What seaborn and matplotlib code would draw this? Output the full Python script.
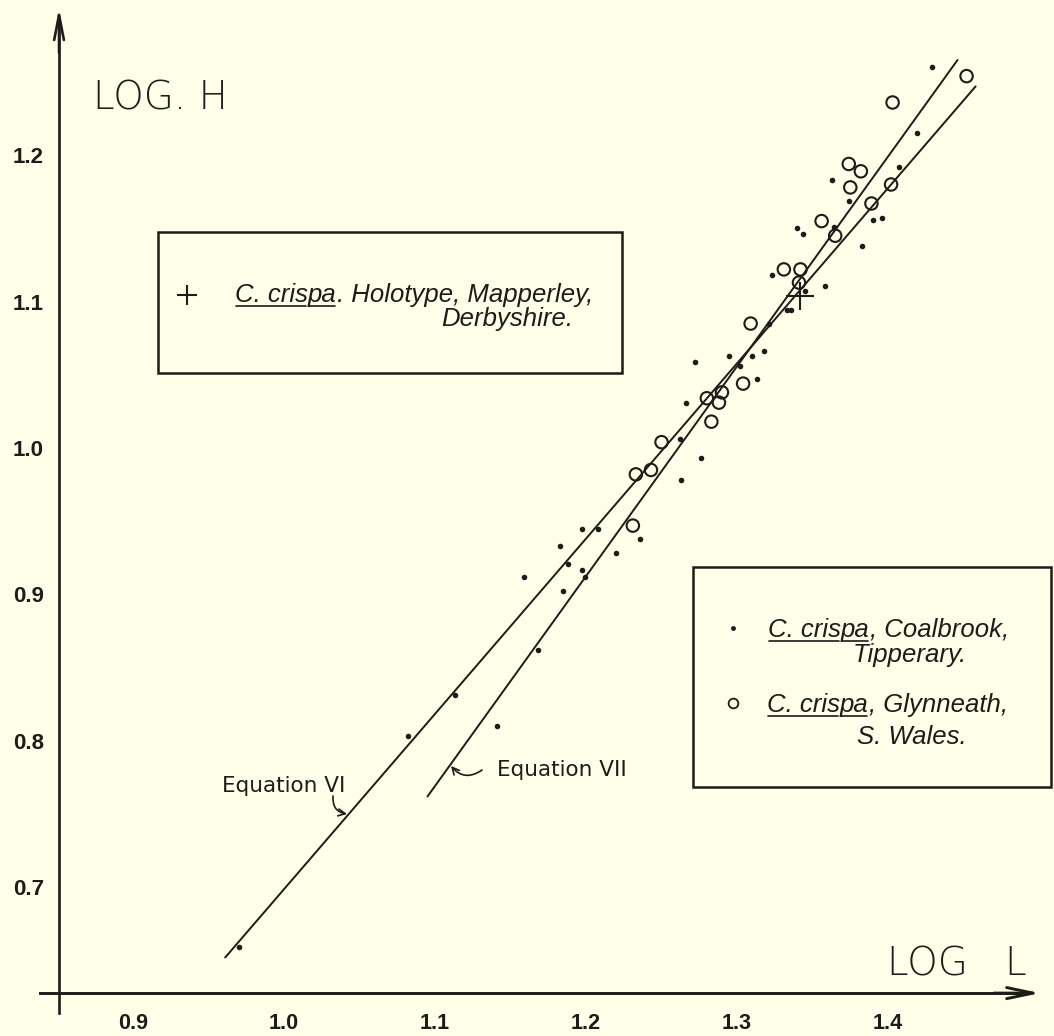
import matplotlib
matplotlib.use("Agg")
import matplotlib.pyplot as plt
import numpy as np
import pandas as pd
import seaborn as sns
from matplotlib.patches import Rectangle
from matplotlib.lines import Line2D

# ---------------- data ----------------
glyn_logL = [1.452, 1.403, 1.374, 1.382, 1.375, 1.402, 1.389, 1.356, 1.365, 1.331,
             1.342, 1.341, 1.309, 1.304, 1.290, 1.280, 1.288, 1.283, 1.250, 1.233,
             1.243, 1.231]
glyn_logH = [1.254, 1.236, 1.194, 1.189, 1.178, 1.180, 1.167, 1.155, 1.145, 1.122,
             1.122, 1.113, 1.085, 1.044, 1.038, 1.034, 1.031, 1.018, 1.004, 0.982,
             0.985, 0.947]

coal_logL = [1.429, 1.419, 1.407, 1.363, 1.374, 1.340, 1.344, 1.364, 1.390, 1.396,
             1.383, 1.323, 1.358, 1.345, 1.336, 1.333, 1.321, 1.272, 1.295, 1.310,
             1.318, 1.302, 1.313, 1.266, 1.262, 1.276, 1.263, 1.197, 1.208, 1.183,
             1.236, 1.220, 1.159, 1.188, 1.197, 1.185, 1.199, 1.168, 1.113, 1.082,
             1.141, 0.970]
coal_logH = [1.260, 1.215, 1.192, 1.183, 1.169, 1.150, 1.146, 1.151, 1.156, 1.157,
             1.138, 1.118, 1.111, 1.107, 1.094, 1.094, 1.085, 1.059, 1.063, 1.063,
             1.066, 1.056, 1.047, 1.031, 1.006, 0.993, 0.978, 0.945, 0.945, 0.933,
             0.938, 0.928, 0.912, 0.921, 0.917, 0.902, 0.912, 0.862, 0.831, 0.803,
             0.810, 0.659]

holo_logL = [1.342]
holo_logH = [1.104]

eq6_logL = [0.961, 1.458]
eq6_logH = [0.652, 1.247]
eq7_logL = [1.095, 1.446]
eq7_logH = [0.762, 1.265]

x_ticks = [0.9, 1.0, 1.1, 1.2, 1.3, 1.4]
x_tick_labels = ["0.9", "1.0", "1.1", "1.2", "1.3", "1.4"]
x_minor = [0.95, 1.05, 1.15, 1.25, 1.35, 1.45]
y_ticks = [0.7, 0.8, 0.9, 1.0, 1.1, 1.2]
y_tick_labels = ["0.7", "0.8", "0.9", "1.0", "1.1", "1.2"]
y_minor = [0.75, 0.85, 0.95, 1.05, 1.15]

# ---------------- style ----------------
W, H = 1054, 1036
BG = "#fefee9"
INK = "#1c1c18"

sns.set_style("white")
plt.rcParams["font.family"] = ["Liberation Sans", "DejaVu Sans"]

fig = plt.figure(figsize=(W / 100, H / 100), dpi=100, facecolor=BG)
ax = fig.add_axes([0, 0, 1, 1])
ax.set_facecolor(BG)
ax.set_xlim(0.8119, 1.5099)
ax.set_ylim(0.5984, 1.306)

# regression lines
lines_df = pd.DataFrame({
    "logL": eq6_logL + eq7_logL,
    "logH": eq6_logH + eq7_logH,
    "eq": ["VI", "VI", "VII", "VII"],
})
sns.lineplot(data=lines_df, x="logL", y="logH", units="eq", estimator=None,
             sort=False, color=INK, lw=1.4, ax=ax, legend=False)

# Coalbrook dots
sns.scatterplot(x=coal_logL, y=coal_logH, marker="o", s=16, color=INK,
                linewidth=0, ax=ax, legend=False, zorder=4)
# Glynneath open circles
sns.scatterplot(x=glyn_logL, y=glyn_logH, marker="o", s=80, color=INK,
                linewidth=1.5, ax=ax, legend=False, zorder=5)
ax.collections[-1].set_facecolor("none")
ax.collections[-1].set_edgecolor(INK)
# Holotype cross
sns.scatterplot(x=holo_logL, y=holo_logH, marker="+", s=420, color=INK,
                linewidth=1.5, ax=ax, legend=False, zorder=6)

# ---------------- axes ----------------
for s in ["top", "right"]:
    ax.spines[s].set_visible(False)
ax.spines["left"].set_position(("data", 0.851))
ax.spines["left"].set_bounds(0.614, 1.29)
ax.spines["bottom"].set_position(("data", 0.6277))
ax.spines["bottom"].set_bounds(0.8384, 1.49)
ax.spines["left"].set_linewidth(1.9)
ax.spines["bottom"].set_linewidth(2.1)
ax.spines["left"].set_color(INK)
ax.spines["bottom"].set_color(INK)

ax.annotate("", xy=(0.851, 1.3005), xytext=(0.851, 1.27),
            arrowprops=dict(arrowstyle="->,head_length=1.8,head_width=0.35",
                            lw=1.9, color=INK, shrinkA=0, shrinkB=0))
ax.annotate("", xy=(1.5007, 0.6277), xytext=(1.47, 0.6277),
            arrowprops=dict(arrowstyle="->,head_length=1.9,head_width=0.4",
                            lw=2.1, color=INK, shrinkA=0, shrinkB=0))

ax.set_xticks(x_ticks)
ax.set_xticklabels(x_tick_labels)
ax.set_xticks(x_minor, minor=True)
ax.set_yticks(y_ticks)
ax.set_yticklabels(y_tick_labels)
ax.set_yticks(y_minor, minor=True)
ax.tick_params(axis="both", which="both", direction="in", length=5,
               width=1.4, color=INK, labelcolor=INK, labelsize=15.5)
ax.tick_params(axis="x", which="major", pad=14)
ax.tick_params(axis="y", which="major", pad=11, labelsize=16)
for lab in ax.get_xticklabels() + ax.get_yticklabels():
    lab.set_fontweight("bold")
ax.set_xlabel("")
ax.set_ylabel("")


def fp(px, py):
    return (px / W, 1 - py / H)


# axis titles
fig.text(*fp(93, 110), "LOG. H", fontsize=28, family="DejaVu Sans",
         fontweight="light", color=INK, va="baseline", ha="left")
fig.text(*fp(887, 975), "LOG   L", fontsize=28, family="DejaVu Sans",
         fontweight="light", color=INK, va="baseline", ha="left")

# equation labels
fig.text(*fp(222, 792), "Equation VI", fontsize=15.5, family="DejaVu Sans",
         color=INK, va="baseline", ha="left")
fig.text(*fp(497, 776), "Equation VII", fontsize=15.5, family="DejaVu Sans",
         color=INK, va="baseline", ha="left")
ax.annotate("", xy=(347, H - 814), xytext=(333, H - 796),
            xycoords="figure pixels", textcoords="figure pixels",
            arrowprops=dict(arrowstyle="->,head_length=0.5,head_width=0.25",
                            connectionstyle="arc3,rad=0.45", lw=1.2, color=INK,
                            shrinkA=0, shrinkB=0))
ax.annotate("", xy=(451, H - 766), xytext=(482, H - 770),
            xycoords="figure pixels", textcoords="figure pixels",
            arrowprops=dict(arrowstyle="->,head_length=0.5,head_width=0.25",
                            connectionstyle="arc3,rad=-0.45", lw=1.2, color=INK,
                            shrinkA=0, shrinkB=0))

# ---------------- boxes with underlined text ----------------
renderer = fig.canvas.get_renderer()
TXT = 18.5


def rich_line(px, py, parts, align="left", size=TXT):
    items = []
    for s, u in parts:
        t = fig.text(0, 0, s, fontsize=size, style="italic", color=INK,
                     va="baseline", ha="left")
        w = t.get_window_extent(renderer).width
        items.append((t, w, u))
    total = sum(w for _, w, _ in items)
    x = px if align == "left" else px - total
    for t, w, u in items:
        t.set_position(fp(x, py))
        if u:
            fig.add_artist(Line2D([(x + 1) / W, (x + w - 2) / W],
                                  [1 - (py + 4) / H] * 2,
                                  transform=fig.transFigure, lw=1.2, color=INK))
        x += w


def box(x0, y0, x1, y1):
    fig.add_artist(Rectangle(fp(x0, y1), (x1 - x0) / W, (y1 - y0) / H,
                             transform=fig.transFigure, fill=False,
                             lw=1.8, ec=INK))


# holotype box
box(158, 232, 622, 373)
fig.add_artist(Line2D([187 / W], [1 - 295 / H], marker="+", ms=14, mew=1.5,
                      color=INK, transform=fig.transFigure))
rich_line(235, 302, [("C. cris", True), ("pa", True),
                     (". Holotype, Mapperley,", False)])
rich_line(573, 326, [("Derbyshire.", False)], align="right")

# locality box
box(693, 567, 1051, 787)
fig.add_artist(Line2D([733 / W], [1 - 628 / H], marker="o", ms=3.5, mew=0,
                      color=INK, transform=fig.transFigure))
fig.add_artist(Line2D([733 / W], [1 - 703 / H], marker="o", ms=7, mew=1.3,
                      mfc="none", mec=INK, transform=fig.transFigure))
rich_line(768, 637, [("C. cris", True), ("pa", True), (", Coalbrook,", False)])
rich_line(967, 662, [("Tipperary.", False)], align="right")
rich_line(767, 712, [("C. cris", True), ("pa", True), (", Glynneath,", False)])
rich_line(967, 744, [("S. Wales.", False)], align="right")

fig.savefig("out.png", dpi=100, facecolor=BG)
